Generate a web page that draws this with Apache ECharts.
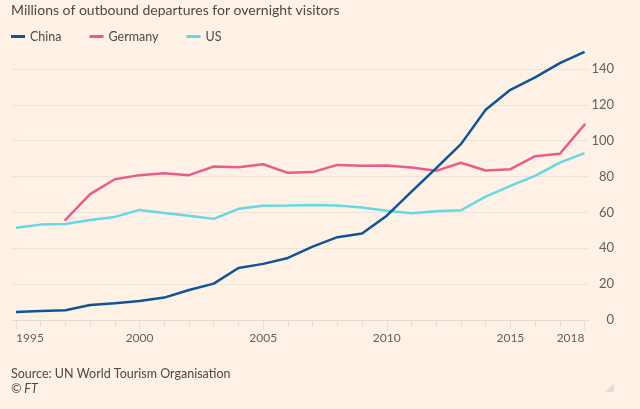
<!DOCTYPE html>
<html>
<head>
<meta charset="utf-8">
<script src="https://cdn.jsdelivr.net/npm/echarts@6/dist/echarts.min.js"></script>
<style>
html,body{margin:0;padding:0;background:#fff1e5;}
#c{width:640px;height:409px;}
</style>
</head>
<body>
<div id="c"></div>
<script>
const years = [1995,1996,1997,1998,1999,2000,2001,2002,2003,2004,2005,2006,2007,2008,2009,2010,2011,2012,2013,2014,2015,2016,2017,2018];
const china = [4.5,5.0,5.4,8.4,9.3,10.6,12.5,16.7,20.3,29.0,31.3,34.6,40.9,46.2,48.2,58.2,71.6,84.7,98.1,117.3,128.4,135.3,143.3,149.5];
const germany = [null,null,55.8,70.2,78.5,80.8,81.9,80.8,85.6,85.2,86.9,82.1,82.5,86.5,86.0,86.2,85.0,83.2,87.7,83.4,84.1,91.4,92.7,109.0];
const us = [51.4,53.2,53.6,55.8,57.5,61.4,59.7,58.2,56.4,62.0,63.7,63.8,64.2,63.8,62.7,61.0,59.6,60.7,61.2,68.8,74.8,80.4,87.8,93.1];
const xLabels = [1995,2000,2005,2010,2015,2018];
const yTicks = [0,20,40,60,80,100,120,140];

const FONT = 'Lato, "Open Sans", sans-serif';
const pair = arr => years.map((y,i)=>[y, arr[i]]);

const chart = echarts.init(document.getElementById('c'), null, {renderer:'canvas'});
chart.setOption({
  backgroundColor:'#fff1e5',
  animation:false,
  textStyle:{fontFamily:FONT},
  title:{
    text:'Millions of outbound departures for overnight visitors',
    left:6, top:-2,
    textStyle:{fontFamily:FONT,fontSize:14,fontWeight:'normal',color:'#4d4845'}
  },
  legend:{
    left:6, top:25,
    itemWidth:14, itemHeight:3, itemGap:28,
    icon:'rect',
    textStyle:{fontFamily:FONT,fontSize:12.5,color:'#4d4845'},
    data:['China','Germany','US']
  },
  grid:{left:12,right:51,top:69,bottom:89,containLabel:false},
  xAxis:[{
    type:'value', min:1994.84, max:2018.18,
    axisLine:{show:true,lineStyle:{color:'#e6dcd2',width:1}},
    axisTick:{show:true,length:7,customValues:years,lineStyle:{color:'#e9dfd5'}},
    axisLabel:{show:false},
    splitLine:{show:false}
  },{
    type:'value', min:1994.84, max:2018.18, position:'bottom',
    axisLine:{show:false},
    axisTick:{show:true,length:10,customValues:xLabels,lineStyle:{color:'#e9dfd5'}},
    axisLabel:{
      show:true, customValues:xLabels, margin:12,
      fontFamily:FONT, fontSize:12, color:'#66605c',
      formatter:function(v){
        if(v===xLabels[0]) return '{l|'+v+'}';
        if(v===xLabels[xLabels.length-1]) return '{r|'+v+'}';
        return '{m|'+v+'}';
      },
      rich:{
        l:{padding:[0,0,0,28],fontSize:12,color:'#66605c',fontFamily:FONT},
        r:{padding:[0,28,0,0],fontSize:12,color:'#66605c',fontFamily:FONT},
        m:{fontSize:12,color:'#66605c',fontFamily:FONT}
      }
    },
    splitLine:{show:false}
  }],
  yAxis:{
    type:'value', position:'right', min:yTicks[0], max:yTicks[yTicks.length-1], interval:20,
    axisLine:{show:false}, axisTick:{show:false},
    axisLabel:{align:'right',margin:25,fontFamily:FONT,fontSize:13,color:'#66605c'},
    splitLine:{show:true,lineStyle:{color:'#ede3d9',width:1}}
  },
  series:[
    {name:'China',type:'line',data:pair(china),showSymbol:false,clip:false,
     itemStyle:{color:'#0f5499'},lineStyle:{color:'#0f5499',width:2.5},z:4},
    {name:'Germany',type:'line',data:pair(germany),showSymbol:false,clip:false,
     itemStyle:{color:'#e95d8c'},lineStyle:{color:'#e95d8c',width:2.5,cap:'round'},z:3},
    {name:'US',type:'line',data:pair(us),showSymbol:false,clip:false,
     itemStyle:{color:'#66d8e4'},lineStyle:{color:'#66d8e4',width:2.5},z:2}
  ],
  graphic:[
    {type:'text',left:11,top:367,style:{text:'Source: UN World Tourism Organisation',fontFamily:FONT,fontSize:12.5,fill:'#4d4845'}},
    {type:'text',left:11,top:382,style:{text:'© FT',fontFamily:FONT,fontSize:12.5,fontStyle:'italic',fill:'#4d4845'}},
    {type:'polygon',shape:{points:[[614,383],[614,392],[605,392]]},style:{fill:'#e6ddd4'}}
  ]
});
</script>
</body>
</html>
